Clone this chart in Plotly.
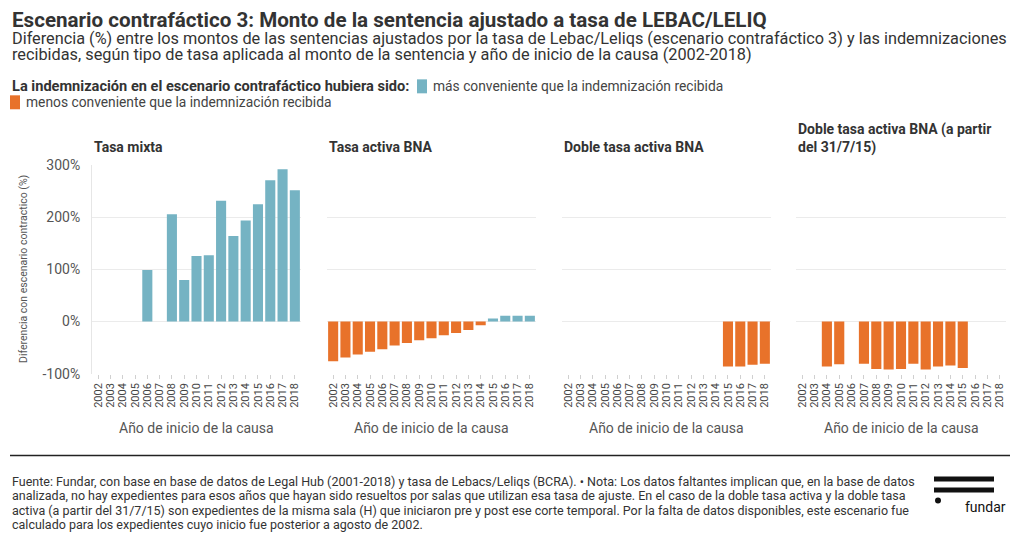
import plotly.graph_objects as go

W, H = 1020, 542
# measured vertical mapping of the capture (page y -> picture y): y' = A*y + B
A, B = 0.9725, 6.5

years = [str(y) for y in range(2002, 2019)]

panel_titles = [
    "Tasa mixta",
    "Tasa activa BNA",
    "Doble tasa activa BNA",
    "Doble tasa activa BNA (a partir<br>del 31/7/15)",
]

# Diferencia (%) por año de inicio (None = sin datos)
tasa_mixta = [None, None, None, None, 99, None, 206, 80, 126, 127, 232, 164, 194, 225, 271, 292, 252]
tasa_activa = [-76, -69, -63, -58, -53, -46, -41, -36, -32, -26, -22, -16, -7, 6, 11, 11, 11]
doble_tasa = [None] * 13 + [-86, -86, -83, -81]
doble_tasa_3117 = [None, None, -86, -82, None, -81, -91, -92, -91, -81, -92, -86, -84, -89, None, None, None]

series = [tasa_mixta, tasa_activa, doble_tasa, doble_tasa_3117]

y_ticks = [-100, 0, 100, 200, 300]
y_tick_text = ["-100%", "0%", "100%", "200%", "300%"]

legend_title = "La indemnización en el escenario contrafáctico hubiera sido:"
legend_pos = "más conveniente que la indemnización recibida"
legend_neg = "menos conveniente que la indemnización recibida"

TEAL = "#75b3c3"
ORANGE = "#e8722a"
FONT = "Roboto"

def px(x):
    return x / W

def py(y):
    return 1 - ((y - B) / A) / H

panels_x = [(92, 301), (327, 536), (562, 771), (796, 1006)]
y_top, y_bot = 164, 373

fig = go.Figure()
for i, vals in enumerate(series):
    colors = [TEAL if (v is not None and v >= 0) else ORANGE for v in vals]
    fig.add_trace(go.Bar(
        x=years, y=vals, marker=dict(color=colors, line=dict(width=0)),
        xaxis="x" if i == 0 else f"x{i+1}",
        yaxis="y" if i == 0 else f"y{i+1}",
        showlegend=False, hoverinfo="x+y",
    ))

layout = dict(
    width=W, height=H, autosize=False,
    margin=dict(l=0, r=0, t=0, b=0),
    paper_bgcolor="white", plot_bgcolor="white",
    font=dict(family=FONT, color="#333"),
    bargap=0.18,
    showlegend=False,
)
annotations = []
shapes = []
for i, (x0, x1) in enumerate(panels_x):
    sx = "" if i == 0 else str(i + 1)
    layout[f"xaxis{sx}"] = dict(
        domain=[px(x0), px(x1)], anchor=f"y{sx}", type="category",
        categoryorder="array", categoryarray=years,
        tickmode="array", tickvals=years, ticktext=years,
        tickangle=-90, tickfont=dict(size=11, color="#444", family=FONT),
        ticks="outside", ticklen=4, tickcolor="#d0d0d0", tickwidth=1,
        showgrid=False, zeroline=False, showline=False,
        fixedrange=True,
    )
    layout[f"yaxis{sx}"] = dict(
        domain=[py(y_bot), py(y_top)], anchor=f"x{sx}", range=[-100, 300],
        tickvals=y_ticks, ticktext=y_tick_text, showticklabels=(i == 0),
        tickfont=dict(size=14, color="#555", family=FONT),
        showgrid=True, gridcolor="#ebebeb", gridwidth=1,
        zeroline=False, showline=(i == 0), linecolor="#e6e6e6", linewidth=1,
        ticks="", fixedrange=True,
    )
    annotations.append(dict(
        text=f"<b>{panel_titles[i]}</b>", x=px(x0), y=py(157 if i == 3 else 156),
        xref="paper", yref="paper",
        xanchor="left", yanchor="bottom", showarrow=False, align="left",
        font=dict(size=14, color="#333", family=FONT),
    ))
    annotations.append(dict(
        text="Año de inicio de la causa", x=px((x0 + x1) / 2), y=py(427), xref="paper", yref="paper",
        xanchor="center", yanchor="middle", showarrow=False,
        font=dict(size=14, color="#555", family=FONT),
    ))

layout["yaxis"]["ticklabelstandoff"] = 8

annotations.append(dict(
    text="Diferencia con escenario contractico (%)", x=px(24), y=py(268), xref="paper", yref="paper",
    xanchor="center", yanchor="middle", textangle=-90, showarrow=False,
    font=dict(size=10.5, color="#555", family=FONT),
))

annotations.append(dict(
    text="<b>Escenario contrafáctico 3: Monto de la sentencia ajustado a tasa de LEBAC/LELIQ</b>",
    x=px(10), y=py(18.5), xref="paper", yref="paper", xanchor="left", yanchor="middle",
    showarrow=False, font=dict(size=20.6, color="#333", family=FONT),
))
sub_lines = [
    "Diferencia (%) entre los montos de las sentencias ajustados por la tasa de Lebac/Leliqs (escenario contrafáctico 3) y las indemnizaciones",
    "recibidas, según tipo de tasa aplicada al monto de la sentencia y año de inicio de la causa (2002-2018)",
]
for k, t in enumerate(sub_lines):
    annotations.append(dict(
        text=t, x=px(10), y=py(37.5 + 16 * k), xref="paper", yref="paper",
        xanchor="left", yanchor="middle", showarrow=False,
        font=dict(size=16.3, color="#333", family=FONT),
    ))

annotations.append(dict(
    text=f"<b>{legend_title}</b>", x=px(10), y=py(85), xref="paper", yref="paper",
    xanchor="left", yanchor="middle", showarrow=False,
    font=dict(size=14.6, color="#333", family=FONT),
))
annotations.append(dict(
    text=legend_pos, x=px(431), y=py(85), xref="paper", yref="paper",
    xanchor="left", yanchor="middle", showarrow=False,
    font=dict(size=13.8, color="#444", family=FONT),
))
annotations.append(dict(
    text=legend_neg, x=px(24), y=py(101), xref="paper", yref="paper",
    xanchor="left", yanchor="middle", showarrow=False,
    font=dict(size=13.8, color="#444", family=FONT),
))
for (sx0, sy0, col) in [(417, 78, TEAL), (10, 94, ORANGE)]:
    shapes.append(dict(
        type="rect", xref="paper", yref="paper",
        x0=px(sx0), x1=px(sx0 + 10), y0=py(sy0 + 14), y1=py(sy0),
        fillcolor=col, line=dict(width=0), layer="above",
    ))

shapes.append(dict(type="line", xref="paper", yref="paper", x0=px(10), x1=px(1010),
                   y0=py(455), y1=py(455), line=dict(color="#222", width=1.5)))

footer_lines = [
    "Fuente: Fundar, con base en base de datos de Legal Hub (2001-2018) y tasa de Lebacs/Leliqs (BCRA). • Nota: Los datos faltantes implican que, en la base de datos",
    "analizada, no hay expedientes para esos años que hayan sido resueltos por salas que utilizan esa tasa de ajuste. En el caso de la doble tasa activa y la doble tasa",
    "activa (a partir del 31/7/15) son expedientes de la misma sala (H) que iniciaron pre y post ese corte temporal. Por la falta de datos disponibles, este escenario fue",
    "calculado para los expedientes cuyo inicio fue posterior a agosto de 2002.",
]
for k, t in enumerate(footer_lines):
    annotations.append(dict(
        text=t, x=px(10), y=py(481 + 14.4 * k), xref="paper", yref="paper",
        xanchor="left", yanchor="middle", showarrow=False,
        font=dict(size=12.5, color="#333", family=FONT),
    ))

shapes.append(dict(type="rect", xref="paper", yref="paper", x0=px(934), x1=px(994),
                   y0=py(481), y1=py(476), fillcolor="#111", line=dict(width=0)))
shapes.append(dict(type="rect", xref="paper", yref="paper", x0=px(934), x1=px(994),
                   y0=py(492), y1=py(487), fillcolor="#111", line=dict(width=0)))
shapes.append(dict(type="circle", xref="paper", yref="paper", x0=px(935), x1=px(941),
                   y0=py(503), y1=py(497), fillcolor="#111", line=dict(width=0)))
annotations.append(dict(
    text="fundar", x=px(963), y=py(507), xref="paper", yref="paper",
    xanchor="left", yanchor="middle", showarrow=False,
    font=dict(size=14, color="#111", family=FONT),
))

layout["annotations"] = annotations
layout["shapes"] = shapes
fig.update_layout(**layout)

post = (
    "var s=document.createElement('style');"
    "s.textContent='html,body{margin:0!important;padding:0!important;overflow:hidden;}';"
    "document.head.appendChild(s);"
)
fig.write_html("out.html", config={"displayModeBar": False}, post_script=post)
